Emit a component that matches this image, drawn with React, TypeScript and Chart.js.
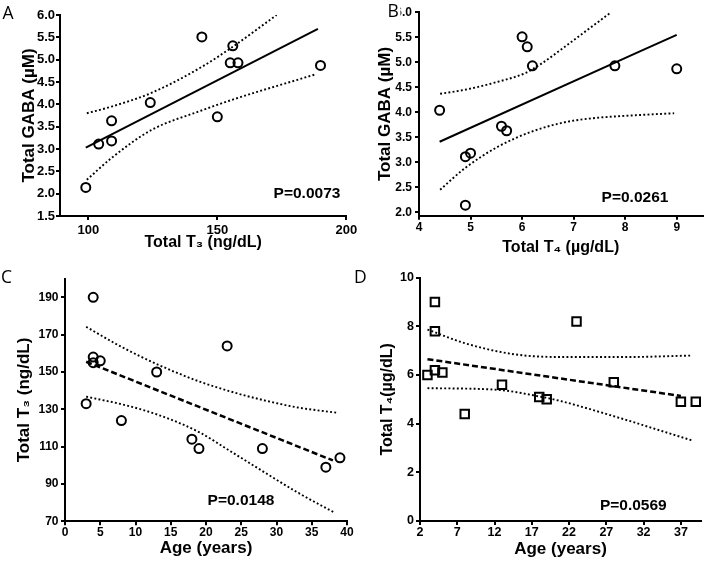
import React, { useEffect, useRef } from 'react';
import { Chart, registerables } from 'chart.js';

Chart.register(...registerables);

const FONT = "'Liberation Sans', 'DejaVu Sans', Arial, Helvetica, sans-serif";
const LETTER_FONT = "'Open Sans', 'Noto Sans', sans-serif";

// ---------- Panel A: Total T3 vs Total GABA ----------
const A_T3 = [99, 104, 109, 109, 124, 144, 150, 155, 156, 158, 190];
const A_GABA = [2.14, 3.11, 3.18, 3.63, 4.04, 5.51, 3.72, 4.93, 5.31, 4.93, 4.87];
const A_FIT_X = [99, 189];
const A_FIT_Y = [3.03, 5.69];
const A_UP_X = [99.4, 109, 124.6, 144, 156, 173];
const A_UP_Y = [3.8, 3.95, 4.26, 4.84, 5.29, 6.0];
const A_LO_X = [99.4, 109, 124.6, 143.3, 156.2, 188];
const A_LO_Y = [2.31, 2.8, 3.43, 3.85, 4.11, 4.67];
const A_X_TICKS = [100, 150, 200];
const A_Y_TICKS = [1.5, 2.0, 2.5, 3.0, 3.5, 4.0, 4.5, 5.0, 5.5, 6.0];

// ---------- Panel B: Total T4 vs Total GABA ----------
const B_T4 = [4.4, 4.9, 5.0, 4.9, 5.6, 5.7, 6.0, 6.1, 6.2, 7.8, 9.0];
const B_GABA = [4.04, 3.11, 3.18, 2.14, 3.72, 3.63, 5.51, 5.31, 4.93, 4.93, 4.87];
const B_FIT_X = [4.4, 9.0];
const B_FIT_Y = [3.41, 5.55];
const B_UP_X = [4.41, 4.89, 5.53, 6.05, 6.4, 6.75, 7.18, 7.7];
const B_UP_Y = [4.37, 4.45, 4.61, 4.78, 4.99, 5.25, 5.58, 5.98];
const B_LO_X = [4.41, 4.89, 5.53, 6.18, 6.83, 7.37, 8.2, 8.95];
const B_LO_Y = [2.45, 2.88, 3.31, 3.61, 3.8, 3.88, 3.94, 3.98];
const B_X_TICKS = [4, 5, 6, 7, 8, 9];
const B_Y_TICKS = [2.0, 2.5, 3.0, 3.5, 4.0, 4.5, 5.0, 5.5, 6.0];

// ---------- Panels C & D: Age ----------
const AGE = [3, 4, 4, 4, 5, 8, 13, 18, 19, 23, 28, 37, 39];
const C_T3 = [133, 190, 158, 155, 156, 124, 150, 114, 109, 164, 109, 99, 104];
const C_FIT_X = [3, 38];
const C_FIT_Y = [155.5, 102.6];
const C_UP_X = [3, 8, 13.4, 19, 24, 28.4, 33, 38.5];
const C_UP_Y = [174.2, 163.5, 153.6, 145.0, 139.0, 134.7, 131.0, 128.2];
const C_LO_X = [3, 8.7, 13.4, 19, 23.7, 28.4, 33.1, 38.3];
const C_LO_Y = [136.8, 132.1, 126.8, 117.8, 107.0, 96.0, 85.2, 74.5];
const C_X_TICKS = [0, 5, 10, 15, 20, 25, 30, 35, 40];
const C_Y_TICKS = [70, 90, 110, 130, 150, 170, 190];

const D_T4 = [6.0, 9.0, 7.8, 6.2, 6.1, 4.4, 5.6, 5.1, 5.0, 8.2, 5.7, 4.9, 4.9];
const D_FIT_X = [3, 37];
const D_FIT_Y = [6.65, 5.14];
const D_UP_X = [3, 8, 14.7, 21, 29.6, 38.4];
const D_UP_Y = [7.87, 7.31, 6.85, 6.74, 6.74, 6.8];
const D_LO_X = [3, 12.45, 18, 21, 25.1, 29.6, 34, 38.6];
const D_LO_Y = [5.46, 5.39, 5.12, 4.92, 4.57, 4.16, 3.74, 3.3];
const D_X_TICKS = [2, 7, 12, 17, 22, 27, 32, 37];
const D_Y_TICKS = [0, 2, 4, 6, 8, 10];

const pts = (xs: number[], ys: number[]) => xs.map((x, i) => ({ x, y: ys[i] }));

const W = 709;
const H = 566;
const DOT = [1.9, 2.3];

type Spec = {
  letter: string;
  letterX: number;
  letterY: number;
  letterBox?: [number, number, number, number];
  area: { l: number; t: number; r: number; b: number };
  padLeft: number;
  xh: number;
  xMin: number; xMax: number; yMin: number; yMax: number;
  xTicks: number[]; yTicks: number[];
  xLabelShift?: number[];
  yDec: number;
  xTitle: string; yTitle: string;
  xTitleSize: number; yTitleSize: number; yTitlePad: number;
  tickSize: number; xTickPad: number; yTickPad: number;
  pText: string; pX: number; pY: number;
  points: { x: number; y: number }[];
  fit: { x: number; y: number }[];
  up: { x: number; y: number }[];
  lo: { x: number; y: number }[];
  marker: 'circle' | 'rect';
  fitDash: number[];
  fitWidth: number;
};

const SPECS: Spec[] = [
  {
    letter: 'A', letterX: 2.5, letterY: 19.3,
    area: { l: 60, t: 15, r: 346.3, b: 216 }, padLeft: 0, xh: 36.1,
    xMin: 89, xMax: 200, yMin: 1.5, yMax: 6.0,
    xTicks: A_X_TICKS, yTicks: A_Y_TICKS, yDec: 1,
    xTitle: 'Total T\u2083 (ng/dL)', yTitle: 'Total GABA (\u00b5M)',
    xTitleSize: 16, yTitleSize: 17, yTitlePad: 19.3,
    tickSize: 13, xTickPad: 3, yTickPad: 1,
    pText: 'P=0.0073', pX: 307, pY: 194,
    points: pts(A_T3, A_GABA), fit: pts(A_FIT_X, A_FIT_Y),
    up: pts(A_UP_X, A_UP_Y), lo: pts(A_LO_X, A_LO_Y),
    marker: 'circle', fitDash: [], fitWidth: 2,
  },
  {
    letter: 'B', letterX: 387.5, letterY: 16.7, letterBox: [383, 0, 17.5, 21],
    area: { l: 419, t: 12.3, r: 703.3, b: 215.7 }, padLeft: 355, xh: 41.7,
    xMin: 4, xMax: 9.5, yMin: 1.93, yMax: 6.0,
    xTicks: B_X_TICKS, yTicks: B_Y_TICKS, yDec: 1,
    xTitle: 'Total T\u2084 (\u00b5g/dL)', yTitle: 'Total GABA (\u00b5M)',
    xTitleSize: 16, yTitleSize: 17, yTitlePad: 19.8,
    tickSize: 12, xTickPad: 1, yTickPad: 3,
    pText: 'P=0.0261', pX: 635, pY: 198,
    points: pts(B_T4, B_GABA), fit: pts(B_FIT_X, B_FIT_Y),
    up: pts(B_UP_X, B_UP_Y), lo: pts(B_LO_X, B_LO_Y),
    marker: 'circle', fitDash: [], fitWidth: 2,
  },
  {
    letter: 'C', letterX: 1, letterY: 282.7,
    area: { l: 65, t: 278.7, r: 347, b: 521.3 }, padLeft: 0, xh: 37.4,
    xMin: 0, xMax: 40, yMin: 70, yMax: 200,
    xTicks: C_X_TICKS, yTicks: C_Y_TICKS, yDec: 0,
    xTitle: 'Age (years)', yTitle: 'Total T\u2083 (ng/dL)',
    xTitleSize: 17, yTitleSize: 17, yTitlePad: 13.8,
    tickSize: 12, xTickPad: 0, yTickPad: 2.5,
    pText: 'P=0.0148', pX: 241, pY: 500.5,
    points: pts(AGE, C_T3), fit: pts(C_FIT_X, C_FIT_Y),
    up: pts(C_UP_X, C_UP_Y), lo: pts(C_LO_X, C_LO_Y),
    marker: 'circle', fitDash: [6, 3], fitWidth: 2.5,
  },
  {
    letter: 'D', letterX: 354, letterY: 282.7,
    area: { l: 420, t: 277.7, r: 703, b: 521 }, padLeft: 355, xh: 38.2,
    xMin: 2, xMax: 39.7, yMin: 0, yMax: 10,
    xTicks: D_X_TICKS, yTicks: D_Y_TICKS, yDec: 0,
    xLabelShift: [-1, 0, 1.5, 2.5, 5, 8, 10, 12],
    xTitle: 'Age (years)', yTitle: 'Total T\u2084(\u00b5g/dL)',
    xTitleSize: 17, yTitleSize: 16, yTitlePad: 22.9,
    tickSize: 12.5, xTickPad: 0, yTickPad: 2,
    pText: 'P=0.0569', pX: 633.3, pY: 506,
    points: pts(AGE, D_T4), fit: pts(D_FIT_X, D_FIT_Y),
    up: pts(D_UP_X, D_UP_Y), lo: pts(D_LO_X, D_LO_Y),
    marker: 'rect', fitDash: [6, 3], fitWidth: 2.5,
  },
];

function buildChart(canvas: HTMLCanvasElement, s: Spec) {
  const lineDs = (data: { x: number; y: number }[], dash: number[], width: number) => ({
    data,
    showLine: true,
    borderColor: '#000',
    backgroundColor: 'rgba(0,0,0,0)',
    borderWidth: width,
    borderDash: dash,
    borderCapStyle: 'butt',
    pointRadius: 0,
    pointHoverRadius: 0,
    fill: false,
    cubicInterpolationMode: 'monotone',
  });
  const isRect = s.marker === 'rect';
  const datasets: any[] = [
    {
      data: s.points,
      showLine: false,
      pointStyle: s.marker,
      pointRadius: isRect ? 6 : 4.5,
      pointHoverRadius: isRect ? 6 : 4.5,
      pointBorderWidth: 2,
      pointBorderColor: '#000',
      pointBackgroundColor: 'rgba(255,255,255,0)',
    },
    lineDs(s.fit, s.fitDash, s.fitWidth),
    lineDs(s.up, DOT, 1.9),
    lineDs(s.lo, DOT, 1.9),
  ];

  const annot = {
    id: 'annot',
    afterDraw(chart: any) {
      const ctx = chart.ctx as CanvasRenderingContext2D;
      ctx.save();
      if (s.letterBox) {
        ctx.fillStyle = '#fff';
        ctx.fillRect(s.letterBox[0], s.letterBox[1], s.letterBox[2], s.letterBox[3]);
      }
      ctx.fillStyle = '#000';
      ctx.font = `17.5px ${LETTER_FONT}`;
      ctx.textAlign = 'left';
      ctx.textBaseline = 'alphabetic';
      ctx.fillText(s.letter, s.letterX, s.letterY);
      ctx.font = `bold 15.5px ${FONT}`;
      ctx.textAlign = 'center';
      ctx.textBaseline = 'middle';
      ctx.fillText(s.pText, s.pX, s.pY);
      ctx.restore();
    },
  };

  const grid = {
    display: true,
    drawOnChartArea: false,
    drawTicks: true,
    tickLength: 4,
    color: '#000',
    lineWidth: 2,
  };
  const border = { display: true, color: '#000', width: 2 };

  return new Chart(canvas, {
    type: 'scatter',
    data: { datasets },
    options: {
      animation: false,
      responsive: false,
      devicePixelRatio: 1,
      events: [],
      layout: {
        padding: {
          left: s.padLeft,
          top: s.area.t,
          right: W - s.area.r,
          bottom: H - s.area.b - s.xh,
        },
      },
      plugins: {
        legend: { display: false },
        tooltip: { enabled: false },
      },
      scales: {
        x: {
          type: 'linear',
          position: 'bottom',
          min: s.xMin,
          max: s.xMax,
          afterFit: (sc: any) => { sc.height = s.xh; },
          afterBuildTicks: (sc: any) => { sc.ticks = s.xTicks.map((v) => ({ value: v })); },
          ticks: {
            autoSkip: false,
            maxRotation: 0,
            color: '#000',
            padding: s.xTickPad,
            labelOffset: (c: any) => (s.xLabelShift ? s.xLabelShift[c.index] || 0 : 0),
            font: { family: FONT, size: s.tickSize, weight: 'bold' },
            callback: (v: any) => String(v),
          },
          grid,
          border,
          title: {
            display: true,
            text: s.xTitle,
            color: '#000',
            font: { family: FONT, size: s.xTitleSize, weight: 'bold' },
            padding: { top: 0, bottom: 0 },
          },
        },
        y: {
          type: 'linear',
          position: 'left',
          min: s.yMin,
          max: s.yMax,
          afterFit: (sc: any) => { sc.width = s.area.l - s.padLeft; },
          afterBuildTicks: (sc: any) => { sc.ticks = s.yTicks.map((v) => ({ value: v })); },
          ticks: {
            autoSkip: false,
            color: '#000',
            padding: s.yTickPad,
            font: { family: FONT, size: s.tickSize, weight: 'bold' },
            callback: (v: any) => Number(v).toFixed(s.yDec),
          },
          grid,
          border,
          title: {
            display: true,
            text: s.yTitle,
            color: '#000',
            font: { family: FONT, size: s.yTitleSize, weight: 'bold' },
            padding: { top: s.yTitlePad, bottom: 0 },
          },
        },
      },
    } as any,
    plugins: [annot],
  });
}

function Panel({ spec }: { spec: Spec }) {
  const ref = useRef<HTMLCanvasElement | null>(null);
  useEffect(() => {
    if (!ref.current) return;
    const chart = buildChart(ref.current, spec);
    return () => chart.destroy();
  }, [spec]);
  return (
    <canvas
      ref={ref}
      width={W}
      height={H}
      style={{ position: 'absolute', left: 0, top: 0, width: W + 'px', height: H + 'px' }}
    />
  );
}

export default function App() {
  return (
    <div style={{ position: 'absolute', left: 0, top: 0, width: W, height: H, background: '#fff' }}>
      {SPECS.map((s) => (
        <Panel key={s.letter} spec={s} />
      ))}
    </div>
  );
}
